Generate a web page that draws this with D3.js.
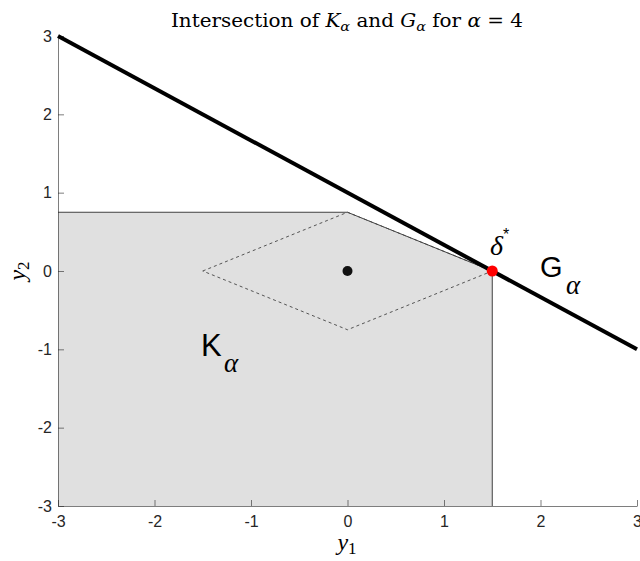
<!DOCTYPE html>
<html>
<head>
<meta charset="utf-8">
<script src="https://cdn.jsdelivr.net/npm/d3@7"></script>
<style>
  html, body { margin: 0; padding: 0; background: #fff; }
  svg { display: block; }
  .tick text { font-family: "Liberation Sans", Arial, sans-serif; font-size: 16px; fill: #262626; }
</style>
</head>
<body>
<svg id="chart" width="640" height="561"></svg>
<script>
// Axis ranges and ticks
const xDomain = [-3, 3];
const yDomain = [-3, 3];
const xTicks = [-3, -2, -1, 0, 1, 2, 3];
const yTicks = [-3, -2, -1, 0, 1, 2, 3];

// K_alpha region boundary
const kRegion = [[-3, 0.75], [0, 0.75], [1.5, 0], [1.5, -3], [-3, -3]];
// Dashed diamond
const diamond = [[-1.5, 0], [0, 0.75], [1.5, 0], [0, -0.75], [-1.5, 0]];
// Hyperplane G_alpha: y2 = 1 - (2/3) y1, drawn across the x-range
const gLine = [[-3, 3], [3, -1]];
// Center point and intersection point delta*
const center = [0, 0];
const deltaStar = [1.5, 0];

const svg = d3.select("#chart");
const margin = { left: 58, right: 3, top: 36, bottom: 55 };
const W = 640, H = 561;

const x = d3.scaleLinear().domain(xDomain).range([margin.left, W - margin.right]);
const y = d3.scaleLinear().domain(yDomain).range([H - margin.bottom, margin.top]);

const line = d3.line().x(d => x(d[0])).y(d => y(d[1]));

// Region K_alpha
svg.append("path")
  .attr("d", line(kRegion) + "Z")
  .attr("fill", "#e0e0e0")
  .attr("stroke", "none");

// region top and right edges
svg.append("path")
  .attr("d", line(kRegion.slice(0, 4)))
  .attr("fill", "none")
  .attr("stroke", "#404040")
  .attr("stroke-width", 1);

// dashed diamond
svg.append("path")
  .attr("d", line(diamond))
  .attr("fill", "none")
  .attr("stroke", "#444")
  .attr("stroke-width", 0.9)
  .attr("stroke-dasharray", "3,3");

// Axes
const xAxis = d3.axisBottom(x).tickValues(xTicks).tickSizeInner(-6).tickSizeOuter(0).tickPadding(10)
  .tickFormat(d3.format("d"));
const yAxis = d3.axisLeft(y).tickValues(yTicks).tickSizeInner(-6).tickSizeOuter(0).tickPadding(6)
  .tickFormat(d3.format("d"));

const gx = svg.append("g").attr("transform", `translate(0,${y(-3)})`).call(xAxis);
const gy = svg.append("g").attr("transform", `translate(${x(-3)},0)`).call(yAxis);
[gx, gy].forEach(g => {
  g.select(".domain").attr("stroke", "#262626").attr("stroke-width", 0.6);
  g.selectAll(".tick line").attr("stroke", "#262626").attr("stroke-width", 0.6);
  g.selectAll(".tick text").text(d => d < 0 ? "-" + Math.abs(d) : d);
});
gx.selectAll(".tick text").attr("dy", "0.71em");

// G_alpha line
svg.append("path")
  .attr("d", line(gLine))
  .attr("fill", "none")
  .attr("stroke", "#000")
  .attr("stroke-width", 4);

// points
svg.append("circle").attr("cx", x(center[0])).attr("cy", y(center[1])).attr("r", 5).attr("fill", "#111");
svg.append("circle").attr("cx", x(deltaStar[0])).attr("cy", y(deltaStar[1])).attr("r", 5.5).attr("fill", "#ff0000");

// Title
const title = svg.append("text")
  .attr("x", 171).attr("y", 27)
  .attr("font-family", "'DejaVu Serif', serif")
  .attr("font-size", 18)
  .attr("textLength", 352)
  .attr("lengthAdjust", "spacingAndGlyphs")
  .attr("fill", "#000");
title.append("tspan").text("Intersection of ");
title.append("tspan").attr("font-style", "italic").text("K");
title.append("tspan").attr("font-style", "italic").attr("font-size", 13).attr("dy", 4).text("α");
title.append("tspan").attr("dy", -4).text(" and ");
title.append("tspan").attr("font-style", "italic").text("G");
title.append("tspan").attr("font-style", "italic").attr("font-size", 13).attr("dy", 4).text("α");
title.append("tspan").attr("dy", -4).text(" for ");
title.append("tspan").attr("font-style", "italic").text("α");
title.append("tspan").text(" = 4");

// Axis labels
const xl = svg.append("text")
  .attr("x", 347).attr("y", 550)
  .attr("text-anchor", "middle")
  .attr("font-family", "'Liberation Serif', 'DejaVu Serif', serif")
  .attr("font-size", 24).attr("fill", "#000");
xl.append("tspan").attr("font-style", "italic").text("y");
xl.append("tspan").attr("font-size", 17).attr("dy", 4).text("1");

const yl = svg.append("text")
  .attr("transform", `translate(25,${y(0)}) rotate(-90)`)
  .attr("text-anchor", "middle")
  .attr("font-family", "'Liberation Serif', 'DejaVu Serif', serif")
  .attr("font-size", 24).attr("fill", "#000");
yl.append("tspan").attr("font-style", "italic").text("y");
yl.append("tspan").attr("font-size", 17).attr("dy", 4).text("2");

// K_alpha label
svg.append("text")
  .attr("x", 201).attr("y", 356)
  .attr("font-family", "'Liberation Sans', Arial, sans-serif")
  .attr("font-size", 31).attr("fill", "#000").text("K");
svg.append("text")
  .attr("x", 224).attr("y", 372)
  .attr("font-family", "'Liberation Serif', serif").attr("font-style", "italic")
  .attr("font-size", 27).attr("fill", "#000").text("α");

// G_alpha label
svg.append("text")
  .attr("x", 540).attr("y", 277)
  .attr("font-family", "'Liberation Sans', Arial, sans-serif")
  .attr("font-size", 29).attr("fill", "#000").text("G");
svg.append("text")
  .attr("x", 566).attr("y", 294)
  .attr("font-family", "'Liberation Serif', serif").attr("font-style", "italic")
  .attr("font-size", 27).attr("fill", "#000").text("α");

// delta* label
svg.append("text")
  .attr("x", 490).attr("y", 255)
  .attr("font-family", "'Liberation Serif', serif").attr("font-style", "italic")
  .attr("font-size", 28).attr("fill", "#000").text("δ");
svg.append("text")
  .attr("x", 503).attr("y", 240)
  .attr("font-family", "'Liberation Sans', Arial, sans-serif")
  .attr("font-size", 16).attr("fill", "#000").text("*");
</script>
</body>
</html>
